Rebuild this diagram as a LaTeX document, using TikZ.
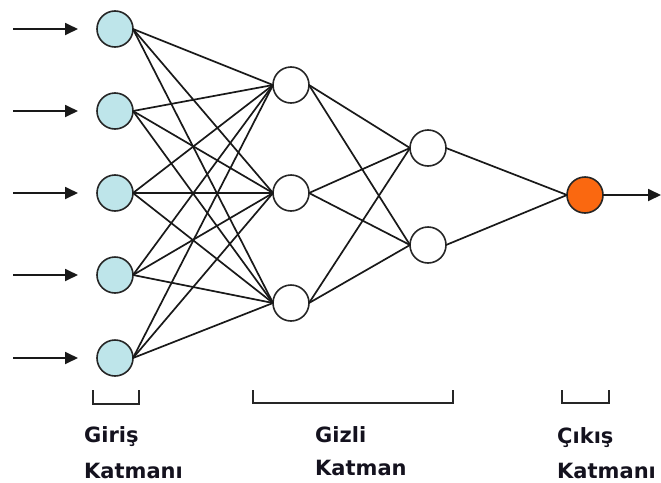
\documentclass[tikz,border=0pt]{standalone}
\usepackage{fontspec}
\setmainfont{DejaVu Sans}
\usetikzlibrary{arrows.meta}
\definecolor{incol}{RGB}{190,229,234}
\definecolor{outcol}{RGB}{250,104,16}
\definecolor{txtcol}{RGB}{20,18,30}
\tikzset{
  neuron/.style={circle,draw=black!85,line width=1.6pt,minimum size=36pt,inner sep=0pt,outer sep=0pt},
  inneuron/.style={neuron,fill=incol},
  hidneuron/.style={neuron,fill=white},
  outneuron/.style={neuron,fill=outcol},
  link/.style={line width=1.7pt,black!90},
  arr/.style={line width=1.8pt,black!90,-{Triangle[length=13pt,width=12pt]}},
  brk/.style={line width=1.7pt,black!85},
  lbl/.style={anchor=base west,inner sep=0pt,text=txtcol,font=\fontsize{21}{25}\selectfont\bfseries}
}
\begin{document}
\begin{tikzpicture}[x=1pt,y=-1pt]
\useasboundingbox (0,0) rectangle (661,482);
% input layer
\foreach \i/\y in {1/29,2/111,3/193,4/275,5/358}{
  \node[inneuron] (i\i) at (115,\y) {};
  \coordinate (s\i) at (13,\y);
}
% hidden layer 1
\foreach \i/\y in {1/85,2/193,3/303}{
  \node[hidneuron] (h\i) at (291,\y) {};
}
% hidden layer 2
\foreach \i/\y in {1/148,2/245}{
  \node[hidneuron] (g\i) at (428,\y) {};
}
% output
\node[outneuron] (o) at (585,195) {};
\coordinate (e) at (661,195);
% connections
\foreach \i in {1,...,5}{
  \foreach \j in {1,2,3}{
    \draw[link] (i\i.east) -- (h\j.west);
  }
  \draw[arr,shorten >=19pt] (s\i) -- (i\i.west);
}
\foreach \j in {1,2,3}{
  \foreach \k in {1,2}{
    \draw[link] (h\j.east) -- (g\k.west);
  }
}
\foreach \k in {1,2}{
  \draw[link] (g\k.east) -- (o.west);
}
\draw[arr] (o.east) -- (e);
% brackets
\draw[brk] (93,390) -- (93,404) -- (139,404) -- (139,390);
\draw[brk] (253,390) -- (253,403) -- (453,403) -- (453,390);
\draw[brk] (562,390) -- (562,403) -- (609,403) -- (609,390);
% labels
\node[lbl] (l1) at (84,442) {Giriş};
\node[lbl] (l2) at (84,478) {Katmanı};
\node[lbl] (l3) at (315,442) {Gizli};
\node[lbl] (l4) at (315,475) {Katman};
\node[lbl] (l5) at (557,443) {Çıkış};
\node[lbl] (l6) at (557,478) {Katmanı};
\end{tikzpicture}
\end{document}
